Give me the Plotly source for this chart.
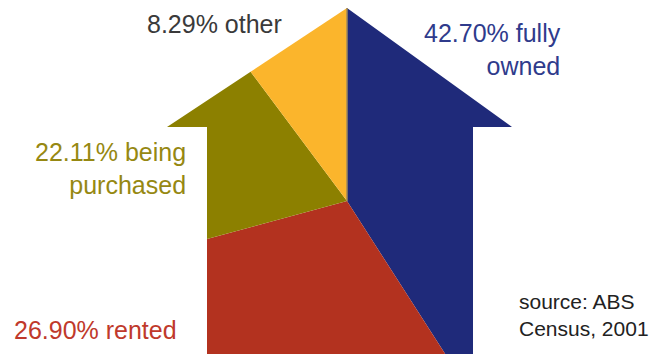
import math
import plotly.graph_objects as go

# ---- data ----
categories = ["fully owned", "rented", "being purchased", "other"]
percentages = [42.70, 26.90, 22.11, 8.29]
colors = ["#1f2a7a", "#b3321f", "#8c8000", "#fbb52c"]
label_texts = ["42.70% fully<br>owned", "26.90% rented", "22.11% being<br>purchased", "8.29% other"]
label_colors = ["#2f3b8c", "#c0392b", "#968812", "#3a3a3a"]
source_text = "source: ABS<br>Census, 2001"

# ---- geometry (layout in pixel units of the plot area) ----
W, H = 660, 356
CX, CY = 347, 201          # pie centre
ASPECT = 1.3               # horizontal stretch of the pie
ARROW = [(347, 8), (512, 127), (473, 127), (473, 354), (207, 354), (207, 127), (167, 127)]


def ray(theta_deg, r=2000):
    t = math.radians(theta_deg)
    return (CX + ASPECT * r * math.sin(t), CY - r * math.cos(t))


def wedge(a0, a1):
    pts = [(CX, CY)]
    n = max(2, int(math.ceil((a1 - a0) / 4)) + 1)
    for i in range(n):
        pts.append(ray(a0 + (a1 - a0) * i / (n - 1)))
    return pts


def clip(subject, clip_poly):
    area = 0
    for i in range(len(clip_poly)):
        x1, y1 = clip_poly[i]
        x2, y2 = clip_poly[(i + 1) % len(clip_poly)]
        area += x1 * y2 - x2 * y1
    sign = 1 if area > 0 else -1
    out = list(subject)
    for i in range(len(clip_poly)):
        a = clip_poly[i]
        b = clip_poly[(i + 1) % len(clip_poly)]
        inp, out = out, []
        if not inp:
            break

        def inside(p):
            return sign * ((b[0] - a[0]) * (p[1] - a[1]) - (b[1] - a[1]) * (p[0] - a[0])) >= -1e-9

        def inter(p, q):
            x1, y1 = p; x2, y2 = q; x3, y3 = a; x4, y4 = b
            den = (x1 - x2) * (y3 - y4) - (y1 - y2) * (x3 - x4)
            if abs(den) < 1e-12:
                return q
            t = ((x1 - x3) * (y3 - y4) - (y1 - y3) * (x3 - x4)) / den
            return (x1 + t * (x2 - x1), y1 + t * (y2 - y1))

        s = inp[-1]
        for e in inp:
            if inside(e):
                if not inside(s):
                    out.append(inter(s, e))
                out.append(e)
            elif inside(s):
                out.append(inter(s, e))
            s = e
    return out


fig = go.Figure()
start = 0.0
for cat, pct, col in zip(categories, percentages, colors):
    span = pct / sum(percentages) * 360
    poly = clip(ARROW, wedge(start, start + span))
    xs = [p[0] for p in poly] + [poly[0][0]]
    ys = [p[1] for p in poly] + [poly[0][1]]
    fig.add_trace(go.Scatter(x=xs, y=ys, fill="toself", fillcolor=col, mode="lines",
                             line=dict(width=0, color=col), name=cat, hoverinfo="skip"))
    start += span

# thin separator at the start angle
fig.add_trace(go.Scatter(x=[CX, CX], y=[CY, ARROW[0][1]], mode="lines",
                         line=dict(color="#a08a5a", width=1.5), hoverinfo="skip"))

FONT = "Liberation Sans, Arial, sans-serif"
ann_pos = [
    dict(x=563, y=49, xanchor="right", yanchor="middle", align="right"),
    dict(x=12, y=330, xanchor="left", yanchor="middle", align="left"),
    dict(x=188, y=168, xanchor="right", yanchor="middle", align="right"),
    dict(x=284, y=24, xanchor="right", yanchor="middle", align="right"),
]
for txt, col, pos in zip(label_texts, label_colors, ann_pos):
    fig.add_annotation(text=txt, showarrow=False, xref="x", yref="y",
                       font=dict(family=FONT, size=25, color=col), **pos)
fig.add_annotation(text=source_text, showarrow=False, xref="x", yref="y",
                   x=517, y=315, xanchor="left", yanchor="middle", align="left",
                   font=dict(family=FONT, size=21, color="#222222"))

fig.update_layout(
    width=W, height=H, margin=dict(l=0, r=0, t=0, b=0),
    paper_bgcolor="white", plot_bgcolor="white", showlegend=False,
    xaxis=dict(range=[0, W], visible=False, fixedrange=True),
    yaxis=dict(range=[H, 0], visible=False, fixedrange=True),
)
fig.write_html("out.html")
